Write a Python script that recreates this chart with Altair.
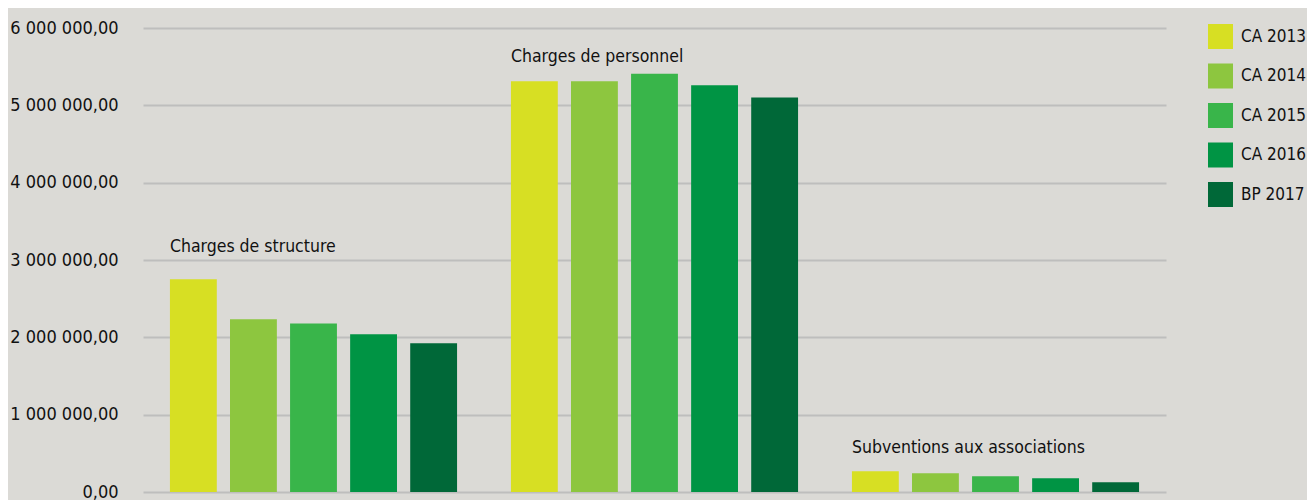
import altair as alt
import pandas as pd

categories = ["Charges de structure", "Charges de personnel", "Subventions aux associations"]
series = ["CA 2013", "CA 2014", "CA 2015", "CA 2016", "BP 2017"]
colors = ["#D7DF23", "#8DC63F", "#39B54A", "#009444", "#006838"]

values_structure = [2750000, 2235000, 2180000, 2040000, 1925000]
values_personnel = [5310000, 5310000, 5410000, 5260000, 5100000]
values_subventions = [268000, 242000, 203000, 177000, 126000]

label_y = [3100000, 5563000, 505000]
y_ticks = [0, 1000000, 2000000, 3000000, 4000000, 5000000, 6000000]

FONT = "DejaVu Sans Condensed, Liberation Sans Narrow, sans-serif"

rows = []
for cat, vals in zip(categories, [values_structure, values_personnel, values_subventions]):
    for s, v in zip(series, vals):
        rows.append({"cat": cat, "serie": s, "val": v})
df = pd.DataFrame(rows)
df_lab = pd.DataFrame({"cat": categories, "y": label_y})

xscale = alt.Scale(domain=categories, paddingInner=0.158, paddingOuter=0.079)
yscale = alt.Scale(domain=[0, 6000000], nice=False)

bars = alt.Chart(df).mark_bar().encode(
    x=alt.X("cat:N", scale=xscale, axis=None, sort=categories),
    xOffset=alt.XOffset("serie:N", sort=series, scale=alt.Scale(paddingInner=0.22, paddingOuter=0)),
    y=alt.Y("val:Q", scale=yscale, title=None,
            axis=alt.Axis(values=y_ticks, grid=True, gridColor="#BEBEBD", gridWidth=2,
                          domain=False, ticks=False, labelPadding=25,
                          labelFont=FONT, labelFontSize=18, labelColor="#111111",
                          labelBaseline="middle",
                          labelExpr="replace(replace(format(datum.value, ',.2f'), regexp(',', 'g'), ' '), '.', ',')")),
    color=alt.Color("serie:N", scale=alt.Scale(domain=series, range=colors), sort=series,
                    legend=alt.Legend(orient="none", legendX=1065, legendY=-4, title=None,
                                      symbolType="square", symbolSize=625, symbolStrokeWidth=0,
                                      labelFont=FONT, labelFontSize=17, labelColor="#111111",
                                      labelOffset=8, rowPadding=14.5)),
)

labels = alt.Chart(df_lab).mark_text(align="left", baseline="alphabetic", font=FONT,
                                     fontSize=17.5, color="#111111").encode(
    x=alt.X("cat:N", scale=xscale, axis=None, sort=categories, bandPosition=0),
    y=alt.Y("y:Q", scale=yscale),
    text="cat:N",
)

chart = alt.layer(bars, labels).properties(
    width=1023, height=464,
    background="#DBDAD6",
    autosize=alt.AutoSizeParams(type="none"),
    padding={"left": 135, "top": 20, "right": 141, "bottom": 8},
).configure_view(stroke=None)

chart.save("out.html", embed_options={"renderer": "svg", "actions": False})
